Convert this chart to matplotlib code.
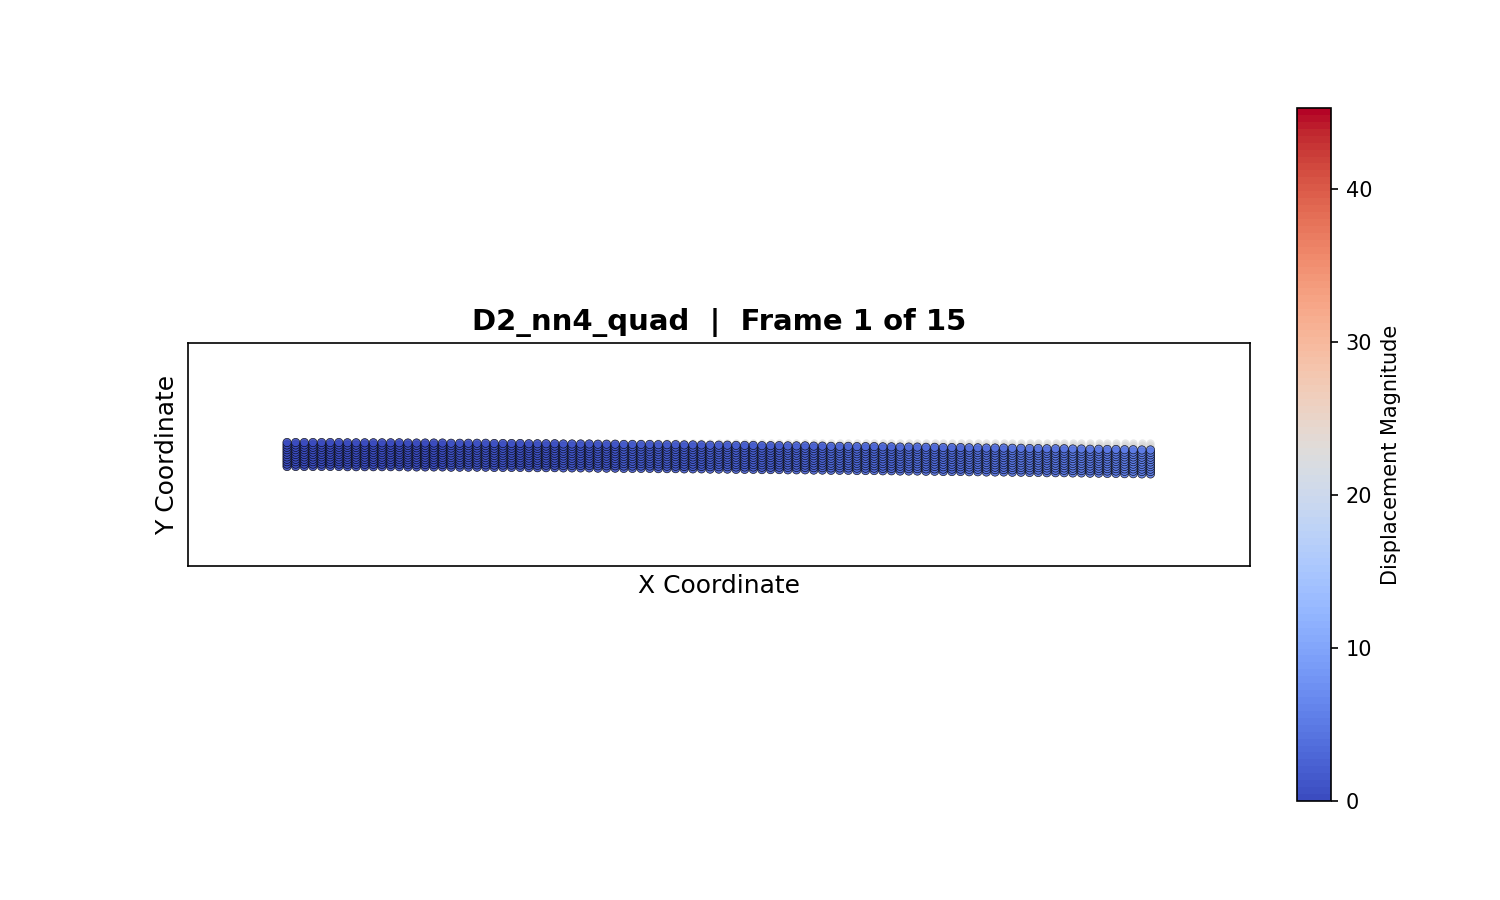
import matplotlib
matplotlib.use("Agg")
import matplotlib.pyplot as plt
import numpy as np

# mesh of the beam (undeformed)
beam_length = 36.0
beam_height = 1.0
n_cols = 101
n_rows = 11

# downward deflection of each node column, frame 1 (data units)
deflection = [
    0.00, 0.00, 0.00, 0.00, 0.00, 0.00, 0.00, 0.01, 0.01, 0.01,
    0.01, 0.01, 0.01, 0.01, 0.02, 0.02, 0.02, 0.02, 0.02, 0.03,
    0.03, 0.03, 0.03, 0.03, 0.04, 0.04, 0.04, 0.04, 0.05, 0.05,
    0.05, 0.05, 0.06, 0.06, 0.06, 0.06, 0.07, 0.07, 0.07, 0.08,
    0.08, 0.08, 0.08, 0.09, 0.09, 0.09, 0.10, 0.10, 0.10, 0.11,
    0.11, 0.11, 0.12, 0.12, 0.12, 0.13, 0.13, 0.13, 0.14, 0.14,
    0.14, 0.15, 0.15, 0.16, 0.16, 0.16, 0.17, 0.17, 0.17, 0.18,
    0.18, 0.19, 0.19, 0.19, 0.20, 0.20, 0.21, 0.21, 0.21, 0.22,
    0.22, 0.23, 0.23, 0.23, 0.24, 0.24, 0.25, 0.25, 0.26, 0.26,
    0.26, 0.27, 0.27, 0.28, 0.28, 0.29, 0.29, 0.30, 0.30, 0.31,
    0.31,
]
# displacement magnitude shown in colour, per unit of deflection
magnitude_per_unit = 17.0
vmax = 45.3
title = "D2_nn4_quad  |  Frame 1 of 15"

x = np.linspace(0, beam_length, n_cols)
y = np.linspace(0, beam_height, n_rows)
X, Y = np.meshgrid(x, y)
D = np.tile(np.array(deflection), (n_rows, 1))
mag = D * magnitude_per_unit

fig, ax = plt.subplots(figsize=(10, 6), dpi=150)

# undeformed positions, faint grey
ax.scatter(X.ravel(), Y.ravel(), s=16, color="lightgray", alpha=0.5,
           linewidths=0, zorder=1)

cmap = plt.get_cmap("coolwarm", 100)
sc = ax.scatter(X.ravel(), (Y - D).ravel(), c=mag.ravel(), cmap=cmap,
                vmin=0, vmax=vmax, s=16, edgecolors="k", linewidths=0.3,
                alpha=0.9, zorder=2)

margin = 4.15
ax.set_xlim(-margin, beam_length + margin)
ax.set_ylim(-margin, beam_height + margin)
ax.set_aspect("equal")
ax.set_xticks([])
ax.set_yticks([])
ax.set_xlabel("X Coordinate", fontsize=12)
ax.set_ylabel("Y Coordinate", fontsize=12)
ax.set_title(title, fontsize=14, fontweight="bold")

cbar = fig.colorbar(sc, ax=ax, fraction=0.046, pad=0.04)
cbar.set_label("Displacement Magnitude")
cbar.solids.set_alpha(1)

plt.savefig("out.png", dpi=150)
plt.close()
